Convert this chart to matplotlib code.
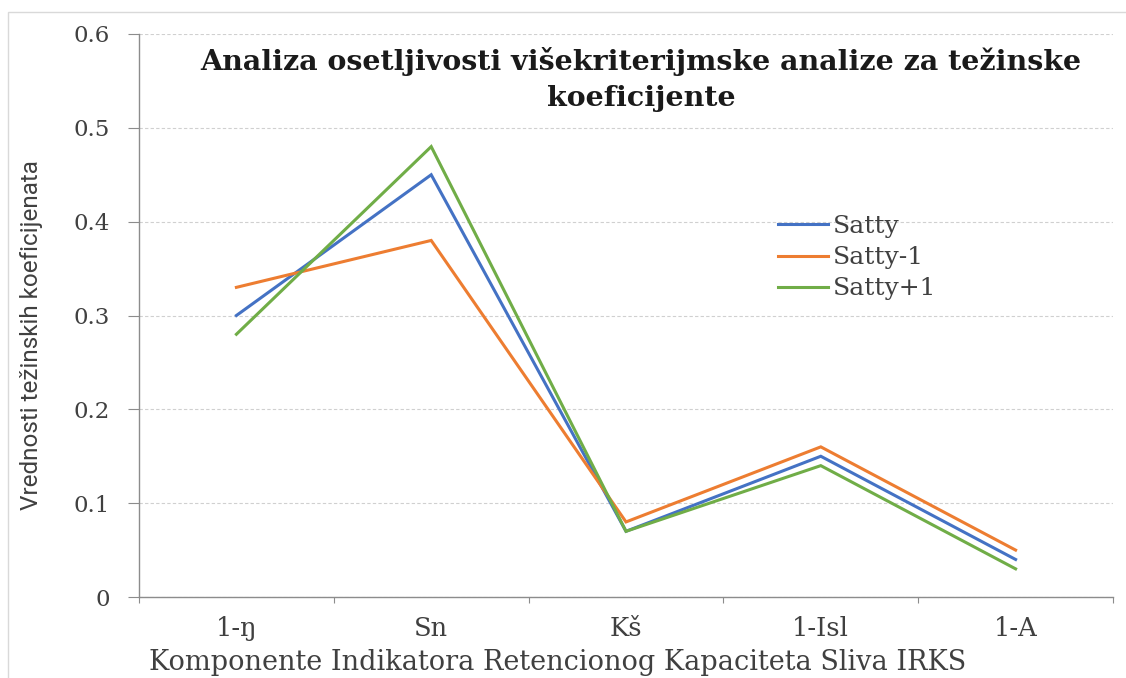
import matplotlib
matplotlib.use("Agg")
import matplotlib.pyplot as plt
from matplotlib.patches import Rectangle

categories = ["1-ŋ", "Sn", "Kš", "1-Isl", "1-A"]
satty = [0.30, 0.45, 0.07, 0.15, 0.04]
satty_minus = [0.33, 0.38, 0.08, 0.16, 0.05]
satty_plus = [0.28, 0.48, 0.07, 0.14, 0.03]
series_names = ["Satty", "Satty-1", "Satty+1"]
y_ticks = [0, 0.1, 0.2, 0.3, 0.4, 0.5, 0.6]
y_tick_labels = ["0", "0.1", "0.2", "0.3", "0.4", "0.5", "0.6"]

W, H, DPI = 1126, 678, 100
fig = plt.figure(figsize=(W / DPI, H / DPI), dpi=DPI)
fig.patch.set_facecolor("white")

# light chart-area frame
fig.add_artist(Rectangle((8 / W, -0.05), 1.2, (H - 12) / H + 0.05,
                         transform=fig.transFigure, fill=False,
                         edgecolor="#d9d9d9", linewidth=1.0))

ax = fig.add_axes([139 / W, (H - 597) / H, (1113 - 139) / W, (597 - 34) / H])

serif = "DejaVu Serif"
text_col = "#404040"
axis_col = "#8c8c8c"

x = list(range(len(categories)))
colors = ["#4472C4", "#ED7D31", "#70AD47"]
for vals, name, c in zip([satty, satty_minus, satty_plus], series_names, colors):
    ax.plot(x, vals, color=c, linewidth=2.2, label=name, solid_joinstyle="miter")

ax.set_xlim(-0.5, len(categories) - 0.5)
ax.set_ylim(0, 0.6)

ax.set_yticks(y_ticks)
ax.set_yticklabels(y_tick_labels, fontfamily=serif, fontsize=16.5, color=text_col)
ax.tick_params(axis="y", direction="out", length=8, width=0.8, color=axis_col, pad=13)

# boundary ticks on the category axis, labels at category centres
ax.set_xticks([i - 0.5 for i in range(len(categories) + 1)])
ax.set_xticklabels([])
ax.tick_params(axis="x", which="major", direction="out", length=4, width=0.8, color=axis_col)
ax.set_xticks(x, minor=True)
ax.set_xticklabels(categories, minor=True, fontfamily=serif, fontsize=18.5, color=text_col)
ax.tick_params(axis="x", which="minor", length=0, pad=14)

ax.grid(axis="y", which="major", color="#d0d0d0", linestyle=(0, (3, 2)), linewidth=0.8)
ax.set_axisbelow(True)
for s in ["top", "right"]:
    ax.spines[s].set_visible(False)
for s in ["left", "bottom"]:
    ax.spines[s].set_color(axis_col)
    ax.spines[s].set_linewidth(1.0)

fig.text(641 / W, 1 - 62 / H, "Analiza osetljivosti višekriterijmske analize za težinske",
         ha="center", va="center", fontfamily=serif, fontweight="bold", fontsize=20.5, color="#1a1a1a")
fig.text(641 / W, 1 - 98 / H, "koeficijente",
         ha="center", va="center", fontfamily=serif, fontweight="bold", fontsize=20.5, color="#1a1a1a")

fig.text(558 / W, 1 - 663 / H, "Komponente Indikatora Retencionog Kapaciteta Sliva IRKS",
         ha="center", va="center", fontfamily=serif, fontsize=19.5, color=text_col)
fig.text(32 / W, 1 - 335 / H, "Vrednosti težinskih koeficijenata", rotation=90,
         ha="center", va="center", fontfamily="Roboto", fontsize=17.5, color=text_col)

leg = ax.legend(loc="upper left", bbox_to_anchor=(778 / W, 1 - 215 / H),
                bbox_transform=fig.transFigure, frameon=False,
                prop={"family": serif, "size": 18}, handlelength=2.0,
                handletextpad=0.2, labelspacing=0.33, borderpad=0,
                borderaxespad=0)
for t in leg.get_texts():
    t.set_color(text_col)

fig.savefig("out.png", dpi=DPI, facecolor="white")
